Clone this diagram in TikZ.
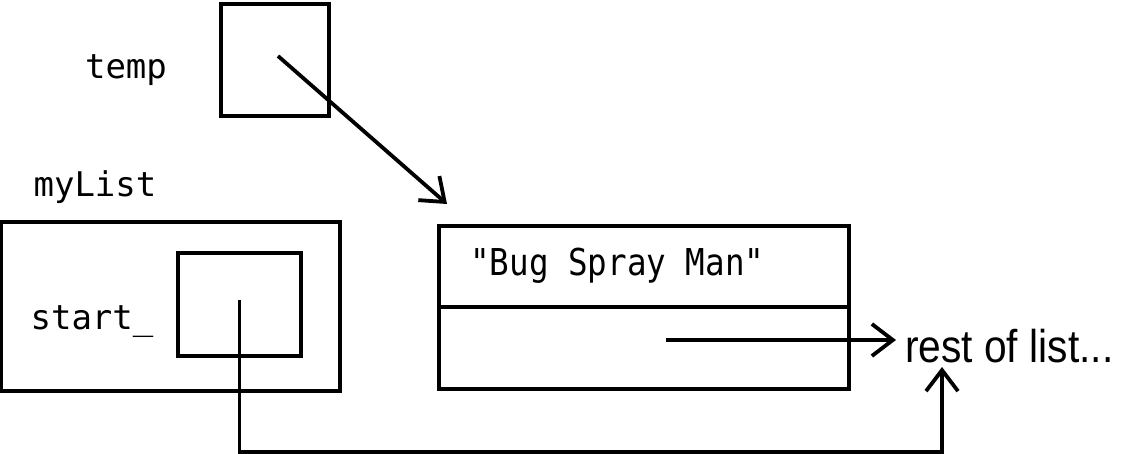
\documentclass[tikz,border=0pt]{standalone}
\usepackage{fontspec}
\usepackage{graphicx}
\usetikzlibrary{arrows.meta}
\newfontfamily\codefont{DejaVu Sans Mono}
\newfontfamily\notefont{Liberation Sans}
\begin{document}
\begin{tikzpicture}[x=1pt,y=-1pt,
  cell/.style={draw, line width=3.2pt, inner sep=0pt, outer sep=0pt},
  code/.style={font=\codefont\fontsize{34}{40}\selectfont, inner sep=0pt, anchor=base},
  note/.style={font=\notefont\fontsize{46}{52}\selectfont, inner sep=0pt, anchor=base west},
  ptr/.style={line width=3.8pt, -{Straight Barb[length=21pt,width=32pt,line width=3.8pt]}},
  wire/.style={line width=3.8pt}]
\useasboundingbox (0,0) rectangle (1121,454);
% temp
\node[code] (templabel) at (126,79) {temp};
\node[cell, minimum width=108pt, minimum height=112pt] (tempbox) at (275,60) {};
% myList
\node[code] (mylistlabel) at (95,197) {myList};
\node[cell, minimum width=339pt, minimum height=169pt] (mylist) at (170.5,306.5) {};
\node[cell, minimum width=123pt, minimum height=103pt] (startbox) at (239.5,304.5) {};
\node[code] (startlabel) at (92,329) {start\_};
% list node
\node[cell, minimum width=410pt, minimum height=81pt] (datacell) at (644,266.5) {};
\node[cell, minimum width=410pt, minimum height=82pt] (nextcell) at (644,348) {};
\node[code, anchor=base west, font=\codefont\fontsize{37}{42}\selectfont] (datatext) at (470,276) {\scalebox{0.88}[1]{"Bug Spray Man"}};
% rest of list
\node[note] (rest) at (905,362) {\scalebox{0.885}[1]{rest of list...}};
% connectors
\coordinate (tempend) at (447,204);
\coordinate (nextstart) at (666,340);
\coordinate (restleft) at (896,340);
\coordinate (restbelow) at (942,367);
\draw[ptr] ([xshift=3pt,yshift=4pt]tempbox.center) -- (tempend);
\draw[ptr] (nextstart) -- (restleft);
\draw[ptr, line width=3.2pt] ([yshift=5pt]startbox.center) |- (restbelow |- 0,452) -- (restbelow);
\end{tikzpicture}
\end{document}
